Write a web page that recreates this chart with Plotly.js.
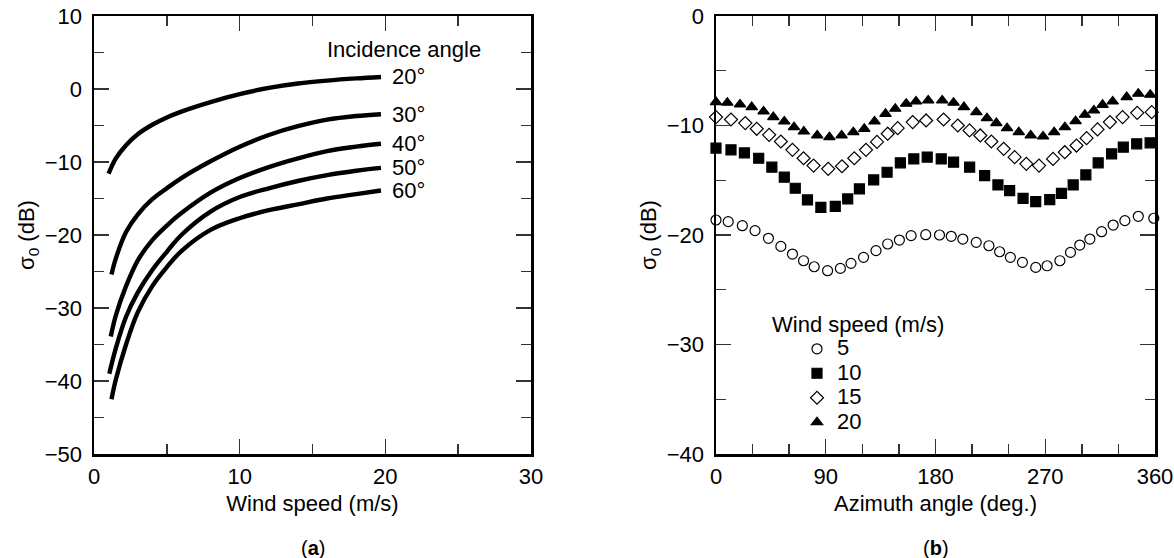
<!DOCTYPE html>
<html>
<head>
<meta charset="utf-8">
<script src="https://cdn.plot.ly/plotly-3.0.1.min.js"></script>
<style>html,body{margin:0;padding:0;background:#fff;}#chart{width:1174px;height:558px;}</style>
</head>
<body>
<div id="chart"></div>
<script>
// ---------- Panel (a): sigma0 vs wind speed ----------
const incidenceLabels = ['20°', '30°', '40°', '50°', '60°'];
const startSpeed = [1.0, 1.2, 1.15, 1.05, 1.2];
const startSigma = [-11.6, -25.4, -33.9, -39.0, -42.5];
const windSpeed = [1.5, 2.2, 3, 4, 5, 6, 8, 10, 12, 14, 16, 18, 19.7];
const sigma20 = [-9.5, -7.7, -6.2, -4.9, -3.9, -3.1, -1.8, -0.7, 0.15, 0.75, 1.15, 1.45, 1.65];
const sigma30 = [-23.2, -19.6, -17.2, -15.1, -13.6, -12.2, -9.9, -7.9, -6.3, -5.1, -4.2, -3.7, -3.45];
const sigma40 = [-31.0, -27.0, -23.5, -20.7, -18.7, -17.0, -14.2, -12.2, -10.7, -9.5, -8.5, -7.9, -7.5];
const sigma50 = [-35.5, -31.2, -27.9, -24.8, -22.3, -20.0, -16.8, -14.8, -13.6, -12.6, -11.8, -11.2, -10.8];
const sigma60 = [-39.8, -35.0, -30.6, -27.0, -24.4, -22.2, -19.3, -17.7, -16.6, -15.8, -15.0, -14.4, -13.9];
const curveSigma = [sigma20, sigma30, sigma40, sigma50, sigma60];

// ---------- Panel (b): sigma0 vs azimuth angle ----------
const windLabels = ['5', '10', '15', '20'];
const angle5 = [0,10,21.6,32,43,53.2,62.7,71.8,80.5,91.5,102,110.7,121,131.2,140.8,150.4,160,172,183.3,192.9,202.4,213.4,223.8,232.6,241.4,251.3,262.2,271.5,282,290.7,298.3,306.6,316.2,325.7,335.3,346.3,359];
const sigma5 = [-18.63,-18.78,-19.15,-19.60,-20.30,-21.04,-21.74,-22.35,-22.90,-23.26,-23.05,-22.59,-22.04,-21.43,-20.82,-20.46,-20.06,-19.97,-20.0,-20.12,-20.37,-20.67,-20.98,-21.53,-22.04,-22.50,-22.96,-22.81,-22.35,-21.59,-20.92,-20.37,-19.70,-19.09,-18.69,-18.29,-18.47];
const angle10 = [0,12.3,23.3,35,45.8,56,65,75,86,97.8,108,117.6,129.3,140.3,151.2,162.2,173.2,184.7,194.8,208,220.3,231.2,240.8,251.8,262.2,273.7,283.3,292.9,303.3,313.4,324.4,334,345,356];
const sigma10 = [-12.07,-12.22,-12.50,-12.99,-13.81,-14.72,-15.73,-16.80,-17.47,-17.38,-16.71,-15.79,-14.97,-14.27,-13.41,-13.05,-12.89,-13.05,-13.35,-13.81,-14.57,-15.43,-15.94,-16.65,-16.95,-16.77,-16.19,-15.43,-14.51,-13.41,-12.59,-11.98,-11.67,-11.58];
const angle15 = [0,12.3,24,33.4,43.6,53.2,62.7,71.8,80,92,103.3,113.4,123,132,140.8,149,161.3,172.3,186.6,198.3,207.9,216.7,225.8,235.9,244.9,254.5,264.9,276.4,286,295.6,303.9,312.9,323,333.4,345.4,357.3];
const sigma15 = [-9.23,-9.45,-9.78,-10.30,-10.85,-11.46,-12.22,-12.99,-13.66,-13.96,-13.72,-12.99,-12.22,-11.5,-10.75,-10.24,-9.69,-9.54,-9.45,-10.0,-10.45,-10.91,-11.46,-12.13,-12.89,-13.5,-13.66,-13.05,-12.44,-11.83,-11.16,-10.36,-9.69,-9.23,-8.84,-8.78];
const angle20 = [0,9.3,19.7,29.3,39,47,56,64,72,83,93,103,112.6,121.6,130,139,147,156,164,174,185.5,194.8,203.3,213.5,222.2,229.9,238.7,248.3,258.1,268.2,277.3,286.1,294.9,302.5,309.9,317.0,325.3,336.8,346.3,356.1];
const sigma20b = [-7.86,-7.92,-8.08,-8.32,-8.72,-9.23,-9.63,-10.15,-10.55,-10.91,-11.06,-10.91,-10.61,-10.30,-9.63,-8.93,-8.47,-8.01,-7.80,-7.71,-7.71,-7.92,-8.32,-8.78,-9.33,-9.78,-10.24,-10.61,-10.91,-11.00,-10.61,-10.15,-9.60,-9.02,-8.62,-8.11,-7.80,-7.40,-7.10,-7.19];

const FONT = 'Liberation Sans, Arial, Helvetica, sans-serif';
const FS = 22;
const traces = [];
curveSigma.forEach((s, i) => {
  traces.push({
    x: [startSpeed[i]].concat(windSpeed),
    y: [startSigma[i]].concat(s),
    mode: 'lines', line: {color: '#000', width: 4.4, shape: 'spline', smoothing: 1},
    xaxis: 'x', yaxis: 'y', showlegend: false, hoverinfo: 'skip'
  });
});
const azAngles = [angle5, angle10, angle15, angle20];
const azSigma = [sigma5, sigma10, sigma15, sigma20b];
const symbols = ['circle-open', 'square', 'diamond-open', 'triangle-up'];
const sizes = [10, 10, 10, 10];
azAngles.forEach((a, i) => {
  traces.push({
    x: a, y: azSigma[i], mode: 'markers',
    name: '<span style="font-size:' + FS + 'px">' + windLabels[i] + '</span>',
    marker: {symbol: symbols[i], size: sizes[i], color: '#000', line: {color: '#000', width: 1.2}},
    xaxis: 'x2', yaxis: 'y2', cliponaxis: false
  });
});

const tickCommon = {
  ticks: 'inside', ticklen: 15, tickwidth: 1.4, tickcolor: '#333',
  showline: true, linewidth: 2.5, linecolor: '#000', mirror: 'allticks',
  showgrid: false, zeroline: false, tickfont: {size: FS, color: '#000'}
};
function minor(d) { return {ticks: 'inside', ticklen: 10, dtick: d, tickwidth: 1.4, tickcolor: '#333', showgrid: false}; }

const annotations = [
  {text: 'Incidence angle', x: 21.3, y: 5.4, xref: 'x', yref: 'y', showarrow: false, font: {size: FS}}
];
curveSigma.forEach((s, i) => {
  annotations.push({text: incidenceLabels[i], x: windSpeed[windSpeed.length - 1] + 0.6, y: s[s.length - 1],
    xref: 'x', yref: 'y', xanchor: 'left', yanchor: 'middle', showarrow: false, font: {size: FS}});
});
annotations.push({text: '(<b>a</b>)', x: 312.5 / 1174, y: 1 - 548 / 558, xref: 'paper', yref: 'paper', xanchor: 'center', yanchor: 'middle', showarrow: false, font: {size: 20}});
annotations.push({text: '(<b>b</b>)', x: 935.5 / 1174, y: 1 - 548 / 558, xref: 'paper', yref: 'paper', xanchor: 'center', yanchor: 'middle', showarrow: false, font: {size: 20}});

const layout = {
  width: 1174, height: 558,
  margin: {l: 0, r: 0, t: 0, b: 0},
  paper_bgcolor: '#fff', plot_bgcolor: '#fff',
  font: {family: FONT, color: '#000', size: FS},
  showlegend: true,
  xaxis: Object.assign({}, tickCommon, {
    domain: [94 / 1174, 531 / 1174], range: [0, 30], dtick: 10, tick0: 0, minor: minor(5), ticklabelstandoff: 1,
    title: {text: 'Wind speed (m/s)', font: {size: FS}, standoff: 8}
  }),
  yaxis: Object.assign({}, tickCommon, {
    domain: [1 - 454 / 558, 1 - 16 / 558], range: [-50, 10], dtick: 10, tick0: 0, minor: minor(5), ticklabelstandoff: 5,
    title: {text: 'σ<sub>0</sub> (dB)', font: {size: FS}, standoff: 4}
  }),
  xaxis2: Object.assign({}, tickCommon, {
    domain: [716 / 1174, 1155 / 1174], range: [0, 360], dtick: 90, tick0: 0, minor: minor(30), anchor: 'y2', ticklabelstandoff: 1,
    title: {text: 'Azimuth angle (deg.)', font: {size: FS}, standoff: 8}
  }),
  yaxis2: Object.assign({}, tickCommon, {
    domain: [1 - 454 / 558, 1 - 16 / 558], range: [-40, 0], dtick: 10, tick0: 0, minor: minor(5), anchor: 'x2', ticklabelstandoff: 5,
    title: {text: 'σ<sub>0</sub> (dB)', font: {size: FS}, standoff: 4}
  }),
  legend: {
    x: 770 / 1174, y: 1 - 303 / 558, xanchor: 'left', yanchor: 'top',
    title: {text: 'Wind speed (m/s)', font: {size: FS}},
    font: {size: 16.5}, indentation: 27, bgcolor: 'rgba(0,0,0,0)', borderwidth: 0
  },
  annotations: annotations
};

Plotly.newPlot('chart', traces, layout, {staticPlot: true, displayModeBar: false});
</script>
</body>
</html>
